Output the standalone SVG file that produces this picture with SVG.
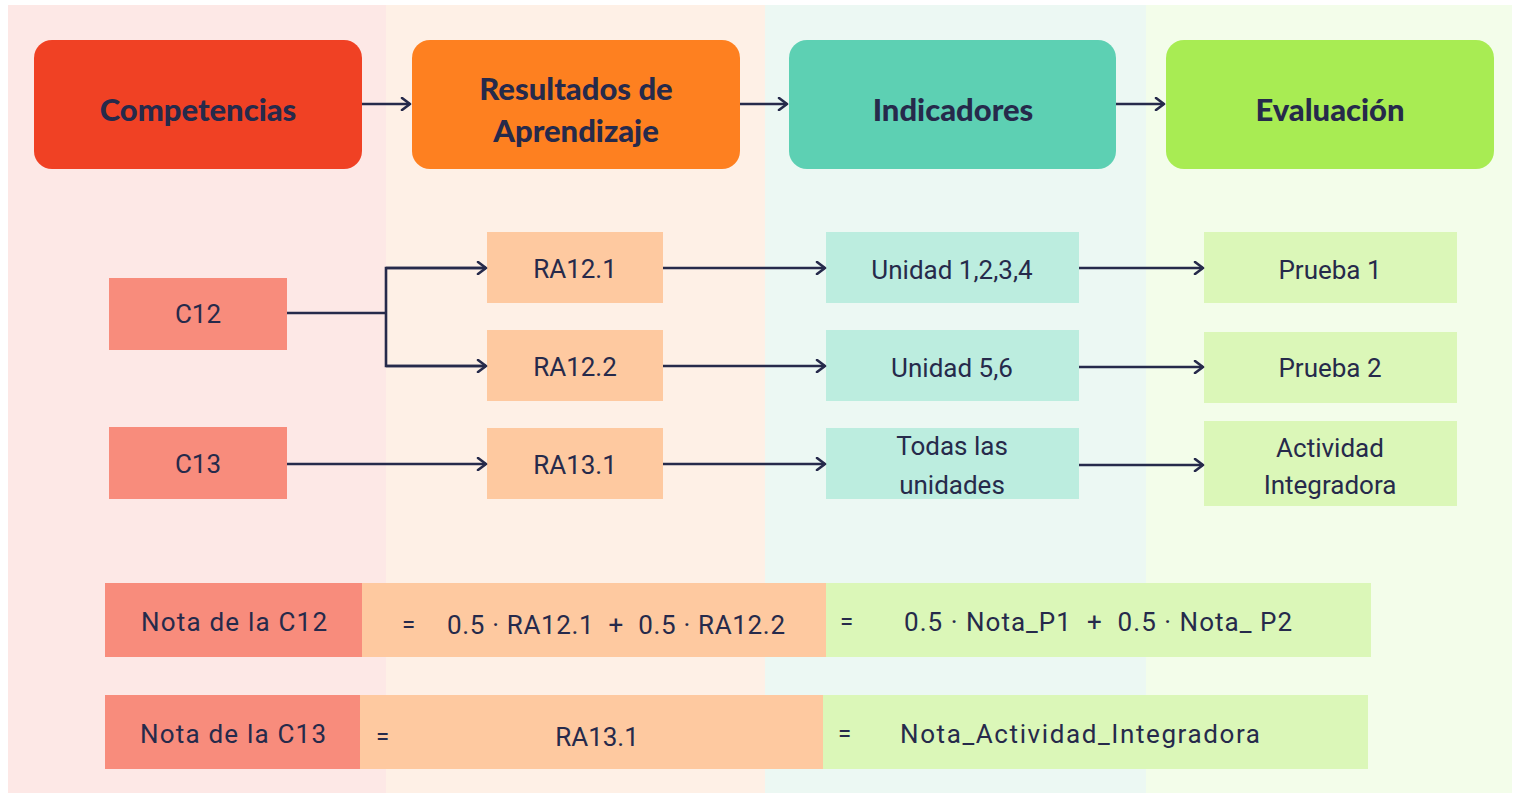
<svg xmlns="http://www.w3.org/2000/svg" width="1514" height="793" viewBox="0 0 1514 793">
<defs>
<marker id="ah" markerWidth="12" markerHeight="14" refX="10" refY="7" orient="auto" markerUnits="userSpaceOnUse">
<path d="M2,1 L10,7 L2,13" fill="none" stroke="#262a4b" stroke-width="2.6" stroke-linecap="round" stroke-linejoin="round"/>
</marker>
<style>
.hdr{font-family:Lato,"Noto Sans",sans-serif;font-weight:900;font-size:31px;fill:#262a4b;text-anchor:middle;dominant-baseline:central}
.t{font-family:Roboto,"Noto Sans",sans-serif;font-size:26px;fill:#262a4b;text-anchor:middle;dominant-baseline:central;white-space:pre}
.tl{font-family:Roboto,"Noto Sans",sans-serif;font-size:24px;fill:#262a4b;dominant-baseline:central}
.c{stroke:#262a4b;stroke-width:2.6;fill:none}
</style>
</defs>
<rect x="0" y="0" width="1514" height="793" fill="#ffffff"/>
<g id="panels">
<rect x="8" y="5" width="378" height="788" fill="#fde8e6"/>
<rect x="386" y="5" width="379" height="788" fill="#fef0e6"/>
<rect x="765" y="5" width="381" height="788" fill="#ecf8f3"/>
<rect x="1146" y="5" width="366" height="788" fill="#f3fdea"/>
</g>
<g id="h-comp"><rect x="34" y="40" width="328" height="129" rx="18" fill="#f04124"/><text class="hdr" x="198" y="109">Competencias</text></g>
<g id="h-ra"><rect x="412" y="40" width="328" height="129" rx="18" fill="#fe8020"/><text class="hdr" x="576" y="88">Resultados de</text><text class="hdr" x="576" y="130">Aprendizaje</text></g>
<g id="h-ind"><rect x="789" y="40" width="327" height="129" rx="18" fill="#5dd0b3"/><text class="hdr" x="953" y="109">Indicadores</text></g>
<g id="h-eval"><rect x="1166" y="40" width="328" height="129" rx="18" fill="#a8ec53"/><text class="hdr" x="1330" y="109">Evaluación</text></g>
<g id="c12"><rect x="109" y="278" width="178" height="72" fill="#f88c7c"/><text class="t" x="198" y="314">C12</text></g>
<g id="c13"><rect x="109" y="427" width="178" height="72" fill="#f88c7c"/><text class="t" x="198" y="464">C13</text></g>
<g id="ra121"><rect x="487" y="232" width="176" height="71" fill="#fec9a0"/><text class="t" x="575" y="269">RA12.1</text></g>
<g id="ra122"><rect x="487" y="330" width="176" height="71" fill="#fec9a0"/><text class="t" x="575" y="367">RA12.2</text></g>
<g id="ra131"><rect x="487" y="428" width="176" height="71" fill="#fec9a0"/><text class="t" x="575" y="465">RA13.1</text></g>
<g id="ind1"><rect x="826" y="232" width="253" height="71" fill="#bceddf"/><text class="t" x="952" y="270">Unidad 1,2,3,4</text></g>
<g id="ind2"><rect x="826" y="330" width="253" height="71" fill="#bceddf"/><text class="t" x="952" y="368">Unidad 5,6</text></g>
<g id="ind3"><rect x="826" y="428" width="253" height="71" fill="#bceddf"/><text class="t" x="952" y="446">Todas las</text><text class="t" x="952" y="485">unidades</text></g>
<g id="ev1"><rect x="1204" y="232" width="253" height="71" fill="#dbf7b8"/><text class="t" x="1330" y="270">Prueba 1</text></g>
<g id="ev2"><rect x="1204" y="332" width="253" height="71" fill="#dbf7b8"/><text class="t" x="1330" y="368">Prueba 2</text></g>
<g id="ev3"><rect x="1204" y="421" width="253" height="85" fill="#dbf7b8"/><text class="t" x="1330" y="448">Actividad</text><text class="t" x="1330" y="485">Integradora</text></g>
<g id="row-c12">
<rect x="105" y="583" width="257" height="74" fill="#f88c7c"/><text class="t" x="234" y="622" textLength="186">Nota de la C12</text>
<rect x="362" y="583" width="464" height="74" fill="#fec9a0"/><text class="tl" x="402" y="625">=</text><text class="t" x="616" y="625" textLength="338">0.5 · RA12.1  +  0.5 · RA12.2</text>
<rect x="826" y="583" width="545" height="74" fill="#dbf7b8"/><text class="tl" x="840" y="622">=</text><text class="t" x="1098" y="622" textLength="388">0.5 · Nota_P1  +  0.5 · Nota_ P2</text>
</g>
<g id="row-c13">
<rect x="105" y="695" width="255" height="74" fill="#f88c7c"/><text class="t" x="233" y="734" textLength="186">Nota de la C13</text>
<rect x="360" y="695" width="463" height="74" fill="#fec9a0"/><text class="tl" x="376" y="737">=</text><text class="t" x="597" y="737">RA13.1</text>
<rect x="823" y="695" width="545" height="74" fill="#dbf7b8"/><text class="tl" x="838" y="734">=</text><text class="t" x="1080" y="734" textLength="360">Nota_Actividad_Integradora</text>
</g>
<g id="connectors">
<line class="c" x1="362" y1="104" x2="410" y2="104" marker-end="url(#ah)"/>
<line class="c" x1="740" y1="104" x2="787" y2="104" marker-end="url(#ah)"/>
<line class="c" x1="1116" y1="104" x2="1164" y2="104" marker-end="url(#ah)"/>
<line class="c" x1="287" y1="313" x2="386" y2="313"/>
<path class="c" d="M486,268 H386 V366 H486"/>
<line class="c" x1="386" y1="268" x2="486" y2="268" marker-end="url(#ah)"/>
<line class="c" x1="386" y1="366" x2="486" y2="366" marker-end="url(#ah)"/>
<line class="c" x1="287" y1="464" x2="486" y2="464" marker-end="url(#ah)"/>
<line class="c" x1="663" y1="268" x2="825" y2="268" marker-end="url(#ah)"/>
<line class="c" x1="663" y1="366" x2="825" y2="366" marker-end="url(#ah)"/>
<line class="c" x1="663" y1="464" x2="825" y2="464" marker-end="url(#ah)"/>
<line class="c" x1="1079" y1="268" x2="1203" y2="268" marker-end="url(#ah)"/>
<line class="c" x1="1079" y1="367" x2="1203" y2="367" marker-end="url(#ah)"/>
<line class="c" x1="1079" y1="465" x2="1203" y2="465" marker-end="url(#ah)"/>
</g>
</svg>
